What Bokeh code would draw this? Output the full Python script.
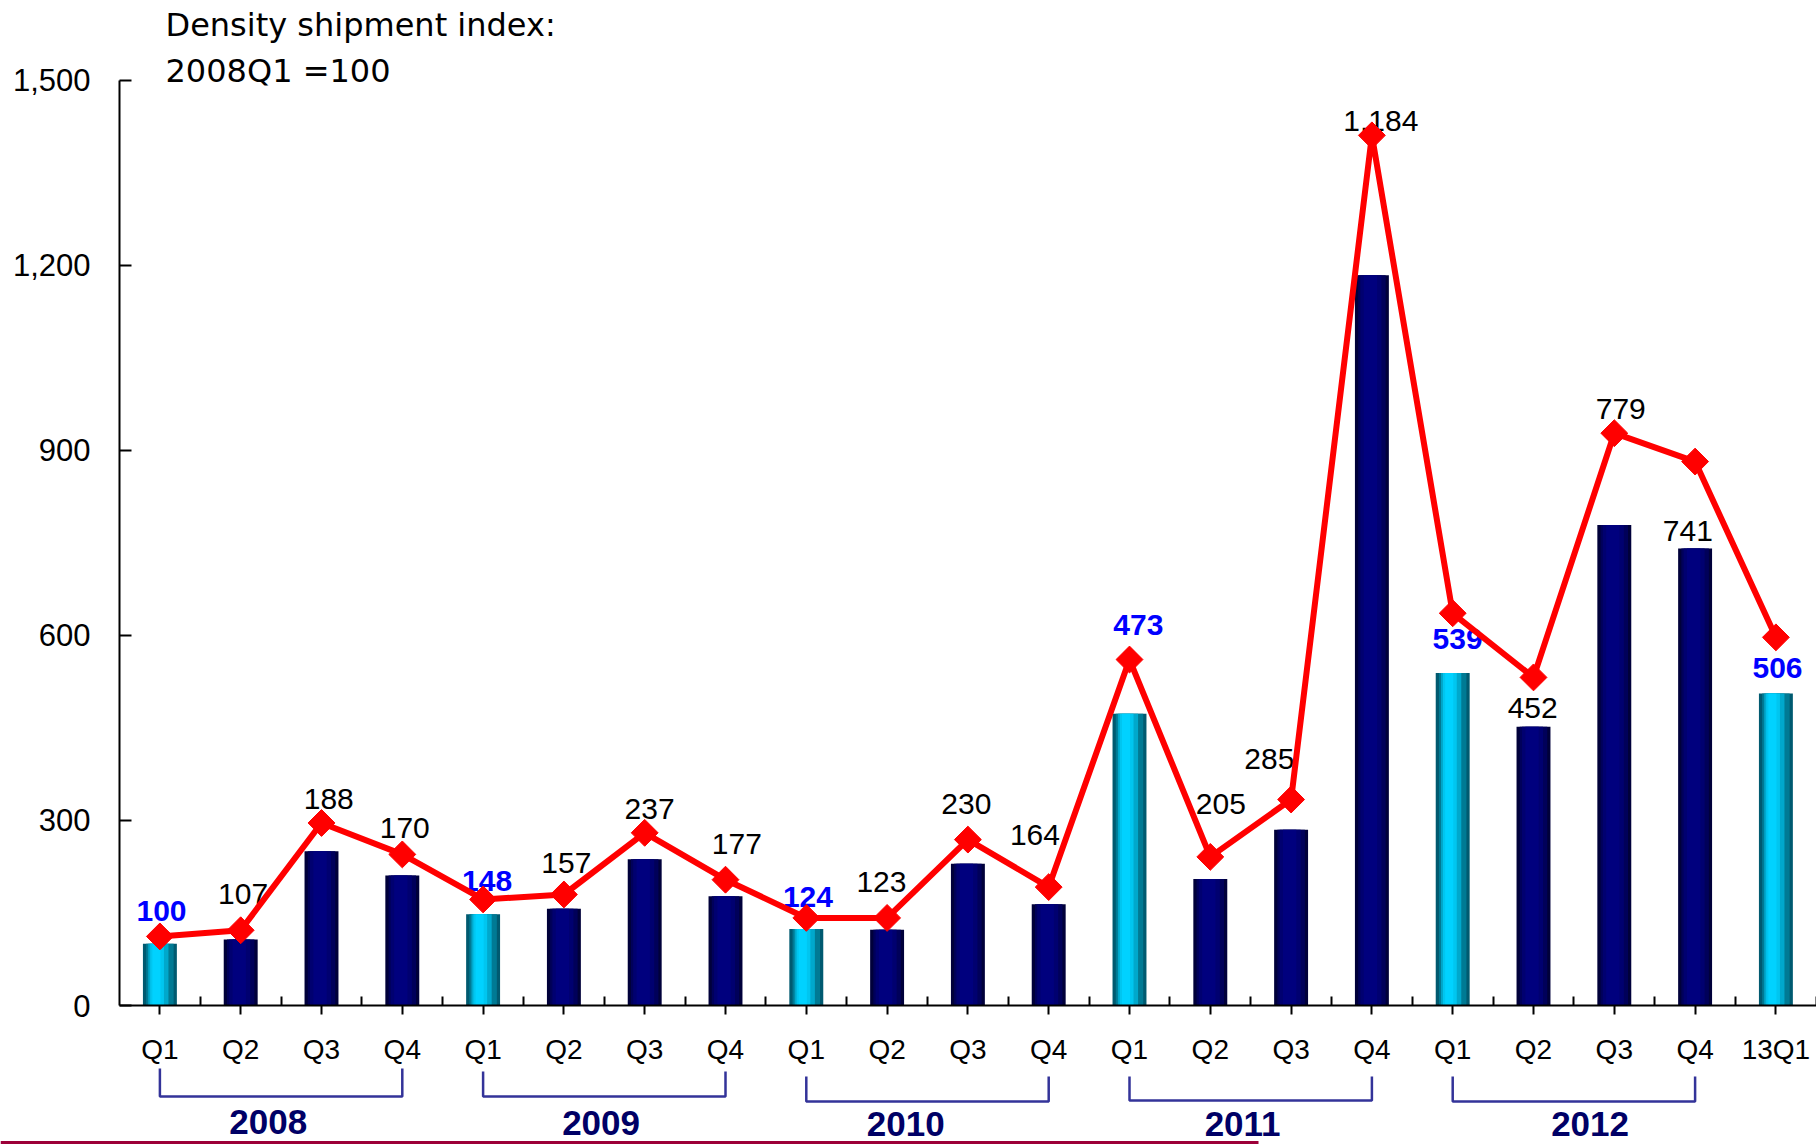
import numpy as np
from bokeh.plotting import figure
from bokeh.models import (ColumnDataSource, Range1d, LinearAxis, FixedTicker,
                          NumeralTickFormatter)
from bokeh.transform import dodge
from bokeh.core.properties import value
from bokeh.embed import file_html
from bokeh.resources import INLINE

# ---------------- data ----------------
quarters = ["Q1", "Q2", "Q3", "Q4"] * 5 + ["13Q1"]
years = ["2008", "2009", "2010", "2011", "2012"]
bar_values = [100, 107, 250, 211,
              148, 157, 237, 177,
              124, 123, 230, 164,
              473, 205, 285, 1184,
              539, 452, 779, 741,
              506]
line_values = [112, 122, 296, 245,
               172, 180, 280, 204,
               142, 142, 269, 192,
               561, 241, 334, 1411,
               636, 532, 928, 882,
               597]
label_texts = ["100", "107", "188", "170",
               "148", "157", "237", "177",
               "124", "123", "230", "164",
               "473", "205", "285", "1,184",
               "539", "452", "779", "741",
               "506"]
# label placement (offset from category centre, height in data units)
label_dx = [0.02, 0.03, 0.09, 0.03,
            0.05, 0.03, 0.06, 0.14,
            0.02, -0.07, -0.02, -0.17,
            0.11, 0.13, -0.27, 0.11,
            0.06, -0.01, 0.08, -0.09,
            0.02]
label_y = [153, 181, 335, 288,
           202, 231, 319, 262,
           176, 200, 326, 276,
           617, 326, 400, 1434,
           595, 482, 968, 770,
           548]
title_lines = ["Density shipment index:", "2008Q1 =100"]

# ---------------- geometry ----------------
W, H = 1816, 1144
PX_X = 80.8          # px per category
PX_Y = 0.6167        # px per index unit
X0 = 119             # canvas px where x = -0.5
Y0 = 1005            # canvas px (from top) where y = 0
x_start = -0.5 - X0 / PX_X
x_end = x_start + W / PX_X
y_end = Y0 / PX_Y
y_start = -(H - Y0) / PX_Y


def py(page_y):
    """canvas pixel row -> data y"""
    return (Y0 - page_y) / PX_Y


def px(page_x):
    """canvas pixel column -> data x"""
    return x_start + page_x / PX_X


n = len(quarters)
idx = np.arange(n)
is_q1 = [q.endswith("Q1") for q in quarters]

p = figure(width=W, height=H,
           x_range=Range1d(x_start, x_end), y_range=Range1d(y_start, y_end),
           output_backend="svg", toolbar_location=None,
           x_axis_location=None, y_axis_location=None,
           min_border=0, outline_line_color=None,
           background_fill_color="white", border_fill_color="white")
p.grid.visible = False

# ---------------- bars (layered to imitate gradient) ----------------
cy_src = ColumnDataSource(dict(x=[i for i in idx if is_q1[i]],
                               top=[bar_values[i] for i in idx if is_q1[i]]))
nv_src = ColumnDataSource(dict(x=[i for i in idx if not is_q1[i]],
                               top=[bar_values[i] for i in idx if not is_q1[i]]))
BW = 0.42
cyan_layers = [(0.0, BW, "#005a70"), (0.0, 0.34, "#007a94"), (-0.019, 0.25, "#00a8cc"),
               (-0.035, 0.17, "#00c6f0"), (-0.043, 0.10, "#00d2ff")]
navy_layers = [(0.0, BW, "#00003a"), (0.0, 0.34, "#00005a"), (-0.012, 0.26, "#000070"),
               (-0.018, 0.165, "#00007e")]
for dx, w, c in cyan_layers:
    p.vbar(x=dodge("x", dx), top="top", bottom=0, width=w, source=cy_src,
           fill_color=c, line_color=None)
for dx, w, c in navy_layers:
    p.vbar(x=dodge("x", dx), top="top", bottom=0, width=w, source=nv_src,
           fill_color=c, line_color=None)

# ---------------- data labels ----------------
lab_src = ColumnDataSource(dict(
    x=idx + np.array(label_dx), y=label_y, text=label_texts,
    color=["#0000ff" if q else "#000000" for q in is_q1],
    style=["bold" if q else "normal" for q in is_q1]))
p.text(x="x", y="y", text="text", source=lab_src, text_color="color",
       text_font_style="style", text_font=value("Liberation Sans"),
       text_font_size="30px", text_align="center", text_baseline="middle")

# ---------------- line ----------------
p.line(idx, line_values, line_color="#ff0000", line_width=6, line_join="round")
p.scatter(idx, line_values, marker="square", angle=np.pi / 4, size=19,
          fill_color="#ff0000", line_color="#ff0000")

# ---------------- axes ----------------
xaxis = LinearAxis(
    ticker=FixedTicker(ticks=list(range(n)), minor_ticks=[i + 0.5 for i in range(n)]),
    major_label_overrides={int(i): q for i, q in enumerate(quarters)},
    fixed_location=0, bounds=(-0.5, n - 0.5),
    axis_line_color="black", axis_line_width=2,
    major_tick_in=0, major_tick_out=9, major_tick_line_width=2,
    minor_tick_in=9, minor_tick_out=0, minor_tick_line_width=2,
    major_label_standoff=19,
    major_label_text_font="Liberation Sans", major_label_text_font_size="28px",
    major_label_text_color="black")
p.add_layout(xaxis, "below")

yaxis = LinearAxis(
    ticker=FixedTicker(ticks=[0, 300, 600, 900, 1200, 1500], minor_ticks=[]),
    formatter=NumeralTickFormatter(format="0,0"),
    fixed_location=-0.5, bounds=(0, 1500),
    axis_line_color="black", axis_line_width=2,
    major_tick_in=12, major_tick_out=0, major_tick_line_width=2,
    minor_tick_in=0, minor_tick_out=0,
    major_label_standoff=29,
    major_label_text_font="Liberation Sans", major_label_text_font_size="31px",
    major_label_text_color="black")
p.add_layout(yaxis, "left")

# ---------------- title ----------------
p.text(x=[px(165), px(165)], y=[py(24), py(70)], text=title_lines,
       text_font=value("DejaVu Sans"), text_font_size="32px", text_color="black",
       text_align="left", text_baseline="middle")

# ---------------- year brackets ----------------
br_top = [1068, 1071, 1076, 1076, 1076]
br_bot = [1096, 1096, 1101, 1100, 1101]
yr_lab = [1121, 1122, 1123, 1123, 1123]
yr_dx = [-0.16, -0.04, -0.27, -0.1, 0.2]
xs, ys, lx, ly = [], [], [], []
for k, yr in enumerate(years):
    a, b = 4 * k, 4 * k + 3
    xs.append([a, a, b, b])
    ys.append([py(br_top[k]), py(br_bot[k]), py(br_bot[k]), py(br_top[k])])
    lx.append((a + b) / 2 + yr_dx[k])
    ly.append(py(yr_lab[k]))
p.multi_line(xs, ys, line_color="#333399", line_width=2.5)
p.text(x=lx, y=ly, text=years, text_font=value("Liberation Sans"),
       text_font_style="bold", text_font_size="35px", text_color="#000066",
       text_align="center", text_baseline="middle")

# bottom slide rule
p.segment(x0=[x_start], y0=[py(1142)], x1=[px(1258)], y1=[py(1142)],
          line_color="#9c0038", line_width=3)

open("out.html", "w").write(file_html(p, INLINE))
